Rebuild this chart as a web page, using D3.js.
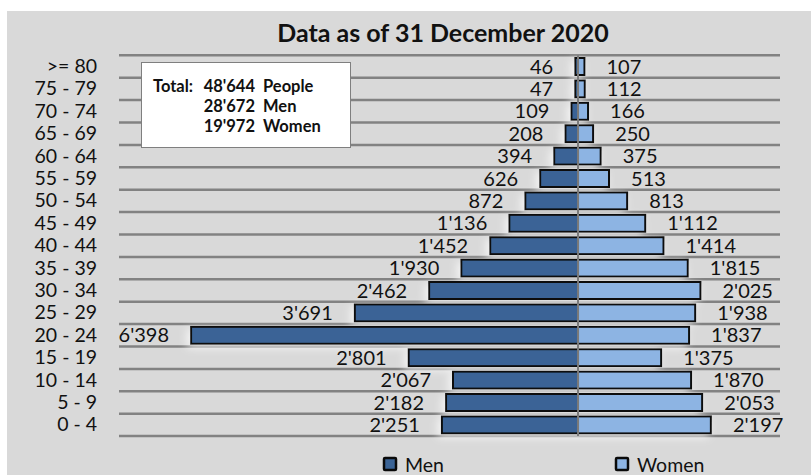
<!DOCTYPE html>
<html>
<head>
<meta charset="utf-8">
<script src="https://cdn.jsdelivr.net/npm/d3@7"></script>
<style>
  html, body { margin: 0; padding: 0; background: #ffffff; }
  svg { display: block; }
  text { font-family: Lato, "Open Sans", "DejaVu Sans", sans-serif; fill: #111; }
</style>
</head>
<body>
<svg id="chart" width="811" height="475"></svg>
<script>
// ---- data ----
const categories = [">= 80", "75 - 79", "70 - 74", "65 - 69", "60 - 64", "55 - 59", "50 - 54",
  "45 - 49", "40 - 44", "35 - 39", "30 - 34", "25 - 29", "20 - 24", "15 - 19", "10 - 14", "5 - 9", "0 - 4"];
const menValues = [46, 47, 109, 208, 394, 626, 872, 1136, 1452, 1930, 2462, 3691, 6398, 2801, 2067, 2182, 2251];
const womenValues = [107, 112, 166, 250, 375, 513, 813, 1112, 1414, 1815, 2025, 1938, 1837, 1375, 1870, 2053, 2197];
const seriesNames = ["Men", "Women"];
const titleText = "Data as of 31 December 2020";
const totalsLabels = ["Total:", "", ""];
const totalsValues = [48644, 28672, 19972];
const totalsUnits = ["People", "Men", "Women"];

// ---- setup ----
const svg = d3.select("#chart");
const W = 811, H = 475;
const locale = d3.formatLocale({ decimal: ".", thousands: "'", grouping: [3], currency: ["", ""] });
const fmt = locale.format(",d");

const colMen = "#3b6496", colWomen = "#8db4e3";

// background
svg.append("rect").attr("x", 7).attr("y", 11).attr("width", W - 7).attr("height", H - 11).attr("fill", "#d9d9d9");

// filters
const defs = svg.append("defs");
const f = defs.append("filter").attr("id", "glow").attr("x", "-20%").attr("y", "-60%").attr("width", "140%").attr("height", "220%");
f.append("feFlood").attr("flood-color", "#ffffff").attr("flood-opacity", 0.75).attr("result", "fl");
f.append("feComposite").attr("in", "fl").attr("in2", "SourceAlpha").attr("operator", "in").attr("result", "wh");
f.append("feGaussianBlur").attr("in", "wh").attr("stdDeviation", 4).attr("result", "bl");
f.append("feOffset").attr("in", "bl").attr("dx", -3).attr("dy", 3).attr("result", "off");
const fm = f.append("feMerge");
fm.append("feMergeNode").attr("in", "off");
fm.append("feMergeNode").attr("in", "SourceGraphic");

// scales
const x = d3.scaleLinear().domain([-7590, 3340]).range([119, 780]);
const y = d3.scaleBand().domain(categories).range([55.3, 436.1]).paddingInner(0.24).paddingOuter(0.12);
const step = y.step();
const x0 = x(0);

// title
svg.append("text").attr("x", 443).attr("y", 42).attr("text-anchor", "middle")
  .attr("font-size", 25).attr("font-weight", "bold").text(titleText);

// gridlines at band boundaries
const bounds = categories.map(c => y(c) - step * y.paddingInner() / 2);
bounds.push(bounds[bounds.length - 1] + step);
svg.append("g").selectAll("line").data(bounds).join("line")
  .attr("x1", x.range()[0]).attr("x2", x.range()[1])
  .attr("y1", d => d).attr("y2", d => d)
  .attr("stroke", "#828282").attr("stroke-width", 2.5);

// category axis labels
svg.append("g").selectAll("text").data(categories).join("text")
  .attr("x", 97).attr("y", c => y(c) + y.bandwidth() / 2 + 6.5)
  .attr("text-anchor", "end").attr("font-size", 19.5)
  .text(c => c);

// bars
const gBars = svg.append("g").attr("filter", "url(#glow)");
gBars.selectAll("rect.men").data(categories).join("rect").attr("class", "men")
  .attr("x", (c, i) => x(-menValues[i])).attr("y", c => y(c))
  .attr("width", (c, i) => x0 - x(-menValues[i])).attr("height", y.bandwidth())
  .attr("fill", colMen).attr("stroke", "#0a0a0a").attr("stroke-width", 2);
gBars.selectAll("rect.women").data(categories).join("rect").attr("class", "women")
  .attr("x", x0).attr("y", c => y(c))
  .attr("width", (c, i) => x(womenValues[i]) - x0).attr("height", y.bandwidth())
  .attr("fill", colWomen).attr("stroke", "#0a0a0a").attr("stroke-width", 2);

// center axis line
svg.append("line").attr("x1", x0).attr("x2", x0).attr("y1", bounds[0]).attr("y2", bounds[bounds.length - 1])
  .attr("stroke", "#7a7a7a").attr("stroke-width", 2);

// value labels
svg.append("g").selectAll("text").data(categories).join("text")
  .attr("x", (c, i) => x(-menValues[i]) - 22).attr("y", c => y(c) + y.bandwidth() / 2 + 7)
  .attr("text-anchor", "end").attr("font-size", 20)
  .text((c, i) => fmt(menValues[i]));
svg.append("g").selectAll("text").data(categories).join("text")
  .attr("x", (c, i) => x(womenValues[i]) + 22).attr("y", c => y(c) + y.bandwidth() / 2 + 7)
  .attr("text-anchor", "start").attr("font-size", 20)
  .text((c, i) => fmt(womenValues[i]));

// totals box
const box = svg.append("g");
box.append("rect").attr("x", 141.5).attr("y", 62.5).attr("width", 209).attr("height", 85)
  .attr("fill", "#ffffff").attr("stroke", "#7f7f7f").attr("stroke-width", 1);
totalsValues.forEach((v, i) => {
  const ty = 92 + i * 20;
  box.append("text").attr("x", 255).attr("y", ty).attr("text-anchor", "end")
    .attr("font-size", 16.5).attr("font-weight", "bold")
    .text(fmt(v));
  if (totalsLabels[i]) {
    box.append("text").attr("x", 153).attr("y", ty).attr("text-anchor", "start")
      .attr("font-size", 16.5).attr("font-weight", "bold").text(totalsLabels[i]);
  }
  box.append("text").attr("x", 263).attr("y", ty).attr("text-anchor", "start")
    .attr("font-size", 16.5).attr("font-weight", "bold").text(totalsUnits[i]);
});

// legend
const legend = svg.append("g");
const legX = [384, 616];
const legCols = [colMen, colWomen];
seriesNames.forEach((s, i) => {
  legend.append("rect").attr("x", legX[i]).attr("y", 458).attr("width", 12).attr("height", 12)
    .attr("fill", legCols[i]).attr("stroke", "#0a0a0a").attr("stroke-width", 2.5).attr("rx", 1);
  legend.append("text").attr("x", legX[i] + 21).attr("y", 472).attr("font-size", 19.5).text(s);
});
</script>
</body>
</html>
